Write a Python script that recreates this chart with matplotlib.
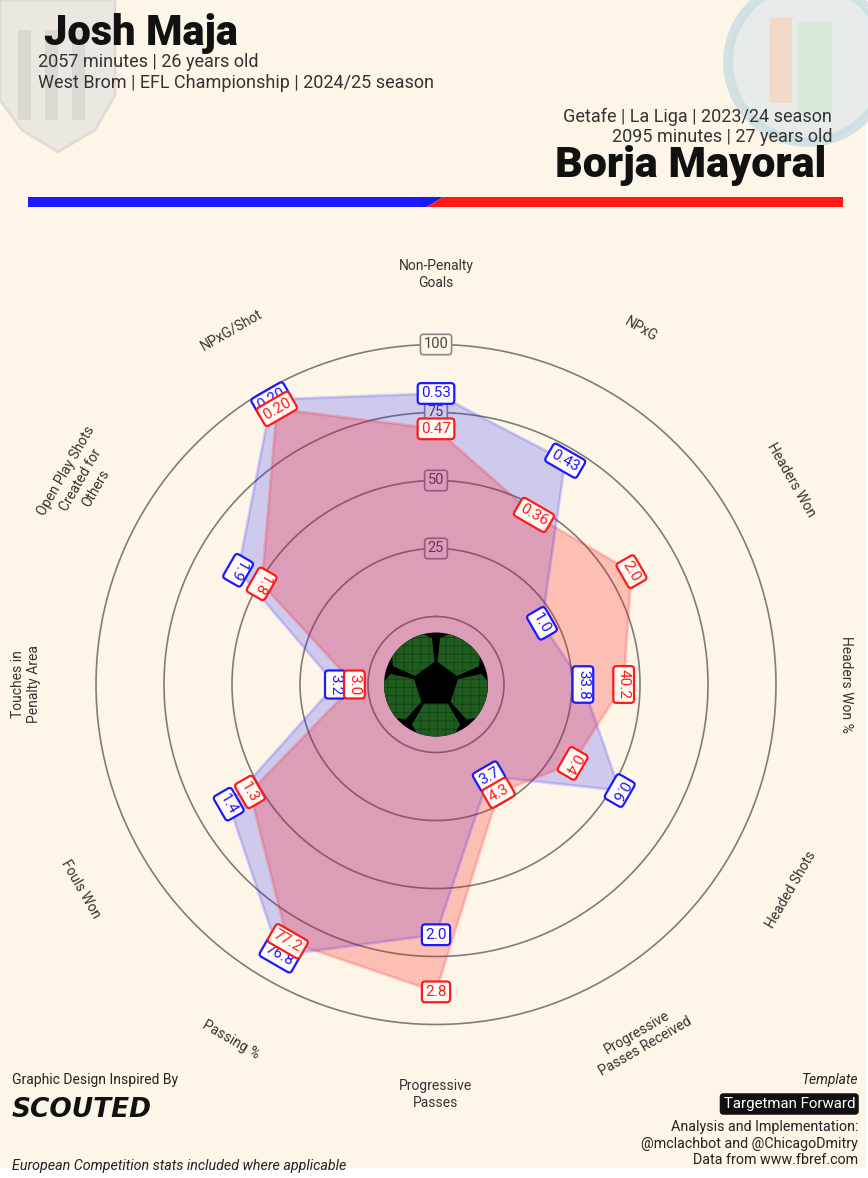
import numpy as np
import matplotlib
matplotlib.use("Agg")
import matplotlib.pyplot as plt
from matplotlib.patches import Circle, RegularPolygon, Polygon, Rectangle

W, H = 868, 1178
BG = "#fdf5e8"
BLUE = "#1a1aff"
RED = "#ff1a1a"
TXT = "#333333"

# ---------------- data ----------------
categories = ["Non-Penalty\nGoals", "NPxG", "Headers Won", "Headers Won %",
              "Headed Shots", "Progressive\nPasses Received", "Progressive\nPasses",
              "Passing %", "Fouls Won", "Touches in\nPenalty Area",
              "Open Play Shots\nCreated for\nOthers", "NPxG/Shot"]
maja_pct = [82, 70, 20, 29, 53, 14, 67, 90, 63, 12, 59, 96]
maja_vals = ["0.53", "0.43", "1.0", "33.8", "0.6", "3.7", "2.0", "76.8", "1.4", "3.2", "1.9", "0.20"]
mayoral_pct = [69, 47, 58, 44, 33, 21, 88, 84, 54, 5, 49, 92]
mayoral_vals = ["0.47", "0.36", "2.0", "40.2", "0.4", "4.3", "2.8", "77.2", "1.3", "3.0", "1.8", "0.20"]
ring_ticks = [25, 50, 75, 100]

plt.rcParams['font.family'] = ['Roboto', 'DejaVu Sans']

fig = plt.figure(figsize=(W / 100, H / 100), dpi=100)
fig.patch.set_facecolor('white')

# background / decoration axes in pixel coordinates
bg = fig.add_axes([0, 0, 1, 1])
bg.set_xlim(0, W)
bg.set_ylim(H, 0)
bg.axis('off')
bg.add_patch(Rectangle((0, 0), 866, 1168, facecolor=BG, edgecolor='none', zorder=0))

# faint club badges (decorative)
shield = Polygon([(0, 0), (115, 0), (115, 95), (95, 130), (58, 152), (22, 130), (0, 100)],
                 closed=True, facecolor='#e8e4de', edgecolor='#dcd7cf', lw=2, alpha=0.8, zorder=0.5)
bg.add_patch(shield)
for sx in [18, 45, 72]:
    bg.add_patch(Rectangle((sx, 30), 13, 90, facecolor='#d2cdc5', edgecolor='none', alpha=0.55, zorder=0.6))
bg.add_patch(Circle((808, 62), 80, facecolor='#e1e9ea', edgecolor='#cadde2', lw=7, alpha=0.8, zorder=0.5))
bg.add_patch(Rectangle((770, 18), 22, 85, facecolor='#f4d6bf', edgecolor='none', alpha=0.8, zorder=0.6))
bg.add_patch(Rectangle((798, 22), 34, 90, facecolor='#d5e6d5', edgecolor='none', alpha=0.8, zorder=0.6))

# split colour bar
bg.add_patch(Polygon([(28, 197), (443, 197), (427, 207), (28, 207)], closed=True,
                     facecolor=BLUE, edgecolor='none', zorder=1))
bg.add_patch(Polygon([(443, 197), (843, 197), (843, 207), (427, 207)], closed=True,
                     facecolor=RED, edgecolor='none', zorder=1))


def fx(x):
    return x / W


def fy(y):
    return 1 - y / H


# ---------------- header text ----------------
fig.text(fx(44), fy(33), "Josh Maja", fontsize=30, fontweight=900, color='#111111',
         ha='left', va='center')
fig.text(fx(38), fy(62), "2057 minutes | 26 years old", fontsize=13, color=TXT, ha='left', va='center')
fig.text(fx(38), fy(83), "West Brom | EFL Championship | 2024/25 season", fontsize=13, color=TXT,
         ha='left', va='center')
fig.text(fx(832), fy(117), "Getafe | La Liga | 2023/24 season", fontsize=13, color=TXT,
         ha='right', va='center')
fig.text(fx(832), fy(137), "2095 minutes | 27 years old", fontsize=13, color=TXT,
         ha='right', va='center')
fig.text(fx(826), fy(166), "Borja Mayoral", fontsize=31, fontweight=900, color='#111111',
         ha='right', va='center')

# ---------------- radar ----------------
CX, CY = 436, 684.5
PX = 2.72            # pixels per percentile unit
OFF = 25             # hole radius in percentile units
R = (100 + OFF) * PX
ax = fig.add_axes([fx(CX - R), fy(CY + R), 2 * R / W, 2 * R / H], projection='polar')
ax.set_theta_zero_location('N')
ax.set_theta_direction(-1)
ax.set_ylim(0, 100)
ax.set_rorigin(-OFF)
ax.axis('off')

n = len(categories)
theta = np.deg2rad(np.arange(n) * 360 / n)
deg = np.arange(n) * 360 / n

tt = np.linspace(0, 2 * np.pi, 400)
for v in [0] + ring_ticks:
    ax.plot(tt, np.full_like(tt, v), color='#4a4a4a', lw=1.2, alpha=0.7, zorder=1, clip_on=False)
for v in ring_ticks:
    ax.text(0, v, str(v), ha='center', va='center', fontsize=10.5, color='#444444', zorder=1.5,
            clip_on=False,
            bbox=dict(boxstyle='round,pad=0.22', facecolor=BG, edgecolor='#8a8a8a', lw=1.2))

# fills
ax.fill(theta, maja_pct, color=BLUE, alpha=0.2, zorder=2, clip_on=False, lw=0)
ax.fill(theta, mayoral_pct, color=RED, alpha=0.25, zorder=2.1, clip_on=False, lw=0)
tc = np.append(theta, theta[0])
ax.plot(tc, np.append(maja_pct, maja_pct[0]), color=BLUE, alpha=0.18, lw=2, zorder=2.2, clip_on=False)
ax.plot(tc, np.append(mayoral_pct, mayoral_pct[0]), color=RED, alpha=0.2, lw=2, zorder=2.3, clip_on=False)


def val_rot(d):
    r = -d
    while r <= -135:
        r += 180
    while r > 45:
        r -= 180
    return r


def cat_rot(d):
    if d <= 90:
        return -d
    if d < 270:
        return 180 - d
    return 360 - d


for i in range(n):
    for pct, vals, col, z in [(maja_pct, maja_vals, BLUE, 5), (mayoral_pct, mayoral_vals, RED, 6)]:
        ax.text(theta[i], pct[i], vals[i], ha='center', va='center', rotation=val_rot(deg[i]),
                rotation_mode='anchor', fontsize=11, color=col, zorder=z, clip_on=False,
                bbox=dict(boxstyle='round,pad=0.22', facecolor='#fffaf3', edgecolor=col, lw=1.6))
    ax.text(theta[i], 125.7, categories[i], ha='center', va='center', rotation=cat_rot(deg[i]),
            rotation_mode='anchor', fontsize=10, color=TXT, linespacing=1.25, clip_on=False)

# football in the centre
BR = 56
bax = fig.add_axes([fx(CX - BR), fy(CY + BR), 2 * BR / W, 2 * BR / H])
bax.set_xlim(-BR, BR)
bax.set_ylim(-BR, BR)
bax.set_aspect('equal')
bax.axis('off')
ball = Circle((0, 0), 52, facecolor='black', edgecolor='none', zorder=1)
bax.add_patch(ball)
plt.rcParams['hatch.linewidth'] = 0.4
for a in [-90, -18, 54, 126, 198]:
    ar = np.deg2rad(a)
    hx = RegularPolygon((40 * np.cos(ar), 40 * np.sin(ar)), numVertices=6, radius=24,
                        orientation=ar, facecolor='#1f5a1f', edgecolor='#0e3a0e',
                        hatch='++', lw=0, zorder=2)
    bax.add_patch(hx)
    hx.set_clip_path(ball)

# ---------------- footer ----------------
fig.text(fx(12), fy(1080), "Graphic Design Inspired By", fontsize=10, color='#222222', ha='left', va='center')
fig.text(fx(12), fy(1110), "SCOUTED", fontsize=19, fontweight='bold', fontstyle='oblique',
         family='DejaVu Sans', color='#111111', ha='left', va='center')
fig.text(fx(12), fy(1166), "European Competition stats included where applicable", fontsize=10.3,
         fontstyle='italic', color='#222222', ha='left', va='center')
fig.text(fx(858), fy(1080), "Template", fontsize=10, fontstyle='italic', color='#222222', ha='right', va='center')
fig.text(fx(855), fy(1104), "Targetman Forward", fontsize=10.8, color='white', ha='right', va='center',
         bbox=dict(boxstyle='round,pad=0.25', facecolor='#111111', edgecolor='none'))
fig.text(fx(858), fy(1127), "Analysis and Implementation:", fontsize=10.3, color='#222222', ha='right', va='center')
fig.text(fx(858), fy(1144), "@mclachbot and @ChicagoDmitry", fontsize=10.3, color='#222222', ha='right', va='center')
fig.text(fx(858), fy(1160), "Data from www.fbref.com", fontsize=10.3, color='#222222', ha='right', va='center')

fig.savefig("out.png", dpi=100, facecolor=fig.get_facecolor())
